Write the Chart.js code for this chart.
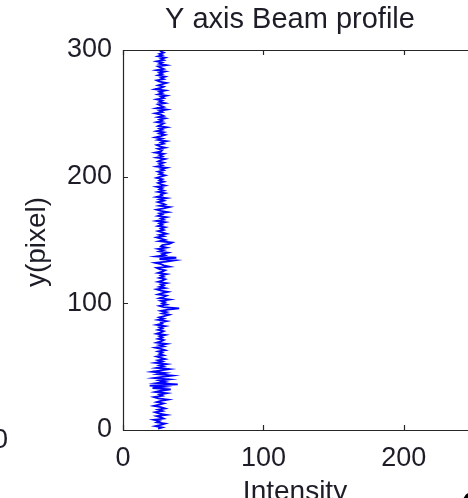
<!DOCTYPE html>
<html>
<head>
<meta charset="utf-8">
<script src="https://cdn.jsdelivr.net/npm/chart.js@4/dist/chart.umd.min.js"></script>
<style>
  html, body { margin: 0; padding: 0; background: #ffffff; overflow: hidden; }
  #wrap { position: relative; width: 480px; height: 498px; }
</style>
</head>
<body>
<div id="wrap"><canvas id="c" width="480" height="498"></canvas></div>
<script>
// Summed intensity along each row of the beam image, rows 1..300
const intensity = [
  25,28,23,27,30,24,26,22,29,27,24,31,26,23,28,25,30,27,22,26,
  29,24,27,32,25,22,28,26,31,23,27,34,21,29,19,39,24,30,26,33,
  22,28,35,25,30,21,27,33,24,29,26,31,23,28,25,30,27,24,29,26,
  28,25,30,27,23,29,26,31,24,27,29,25,28,26,30,24,27,29,25,28,
  26,30,24,28,27,31,25,29,26,30,33,28,31,27,32,40,29,26,31,28,
  30,27,33,26,29,31,25,28,32,27,24,30,26,29,27,31,25,28,30,26,
  29,27,31,25,28,30,26,24,33,29,27,23,31,37,26,38,24,30,28,32,
  26,29,25,31,27,28,33,35,26,30,27,24,29,26,31,28,25,29,27,30,
  25,28,26,30,24,29,27,31,25,28,26,32,27,24,29,33,26,30,28,25,
  29,26,31,24,28,27,30,25,29,26,28,24,30,27,25,29,26,28,24,27,
  30,26,28,25,29,27,31,24,28,26,29,25,27,30,24,28,26,29,23,27,
  28,25,30,26,24,29,27,31,25,28,23,27,30,26,29,24,28,26,31,25,
  27,29,24,28,26,30,25,29,27,23,28,26,31,24,29,27,25,30,26,28,
  24,29,27,31,25,28,26,30,23,27,29,25,28,31,26,24,29,27,30,25,
  28,26,30,24,29,27,25,31,26,28,24,29,27,30,25,28,26,29,27,28
];
const pixelRows = intensity.map((_, i) => i + 1);

const xTicks = [0, 100, 200];
const yTicks = [0, 100, 200, 300];
const xRange = [0, 250];
const yRange = [0, 300];

const titleText = 'Y axis Beam profile';
const xLabel = 'Intensity';
const yLabel = 'y(pixel)';

const FONT = '"Liberation Sans", Arial, sans-serif';
const TEXT = '#1d1d28';
const AXIS = '#262626';

const points = pixelRows.map((r, i) => ({ x: intensity[i], y: r }));

// Box, inward ticks and the text around the axes
const framePlugin = {
  id: 'frame',
  afterDraw(chart) {
    const { ctx, chartArea: a, scales } = chart;
    ctx.save();
    ctx.strokeStyle = AXIS;
    ctx.lineWidth = 1.2;
    ctx.beginPath();
    ctx.moveTo(a.left + 0.5, a.top + 0.5);
    ctx.lineTo(a.right + 0.5, a.top + 0.5);
    ctx.lineTo(a.right + 0.5, a.bottom + 0.5);
    ctx.lineTo(a.left + 0.5, a.bottom + 0.5);
    ctx.closePath();
    ctx.stroke();

    const tl = 5;
    ctx.beginPath();
    xTicks.forEach(v => {
      const px = Math.round(scales.x.getPixelForValue(v)) + 0.5;
      ctx.moveTo(px, a.bottom); ctx.lineTo(px, a.bottom - tl);
      ctx.moveTo(px, a.top); ctx.lineTo(px, a.top + tl);
    });
    yTicks.forEach(v => {
      const py = Math.round(scales.y.getPixelForValue(v)) + 0.5;
      ctx.moveTo(a.left, py); ctx.lineTo(a.left + tl, py);
      ctx.moveTo(a.right, py); ctx.lineTo(a.right - tl, py);
    });
    ctx.stroke();

    ctx.fillStyle = TEXT;
    ctx.font = '29px ' + FONT;
    ctx.textAlign = 'center';
    ctx.textBaseline = 'alphabetic';
    ctx.fillText(titleText, 290, 28);
    ctx.font = '28px ' + FONT;
    ctx.fillText(xLabel, 295, 500);

    ctx.save();
    ctx.translate(37, (a.top + a.bottom) / 2 + 2);
    ctx.rotate(-Math.PI / 2);
    ctx.textBaseline = 'middle';
    ctx.fillText(yLabel, 0, 0);
    ctx.restore();

    // neighbouring panels' edges
    ctx.textAlign = 'right';
    ctx.textBaseline = 'middle';
    ctx.fillText('0', 8, 440);
    ctx.fillStyle = '#000000';
    ctx.font = 'bold 30px ' + FONT;
    ctx.textAlign = 'left';
    ctx.textBaseline = 'alphabetic';
    ctx.fillText('C', 462, 512);
    ctx.restore();
  }
};

new Chart(document.getElementById('c'), {
  type: 'scatter',
  data: {
    datasets: [{
      data: points,
      showLine: true,
      borderColor: '#0000ff',
      borderWidth: 1.8,
      pointRadius: 0,
      tension: 0,
      fill: false
    }]
  },
  options: {
    responsive: false,
    animation: false,
    layout: { padding: { top: 50, right: 6, left: 0, bottom: 0 } },
    plugins: {
      legend: { display: false },
      tooltip: { enabled: false },
      title: { display: false }
    },
    scales: {
      x: {
        type: 'linear',
        min: xRange[0], max: xRange[1],
        grid: { display: false },
        border: { display: false },
        afterBuildTicks: s => { s.ticks = xTicks.map(v => ({ value: v })); },
        afterFit: s => { s.height = 68; },
        ticks: {
          padding: 4,
          color: TEXT,
          font: { family: FONT, size: 27 },
          maxRotation: 0
        }
      },
      y: {
        type: 'linear',
        min: yRange[0], max: yRange[1],
        grid: { display: false },
        border: { display: false },
        afterBuildTicks: s => { s.ticks = yTicks.map(v => ({ value: v })); },
        afterFit: s => { s.width = 123; },
        ticks: {
          padding: 3,
          color: TEXT,
          font: { family: FONT, size: 27 }
        }
      }
    }
  },
  plugins: [framePlugin]
});
</script>
</body>
</html>
